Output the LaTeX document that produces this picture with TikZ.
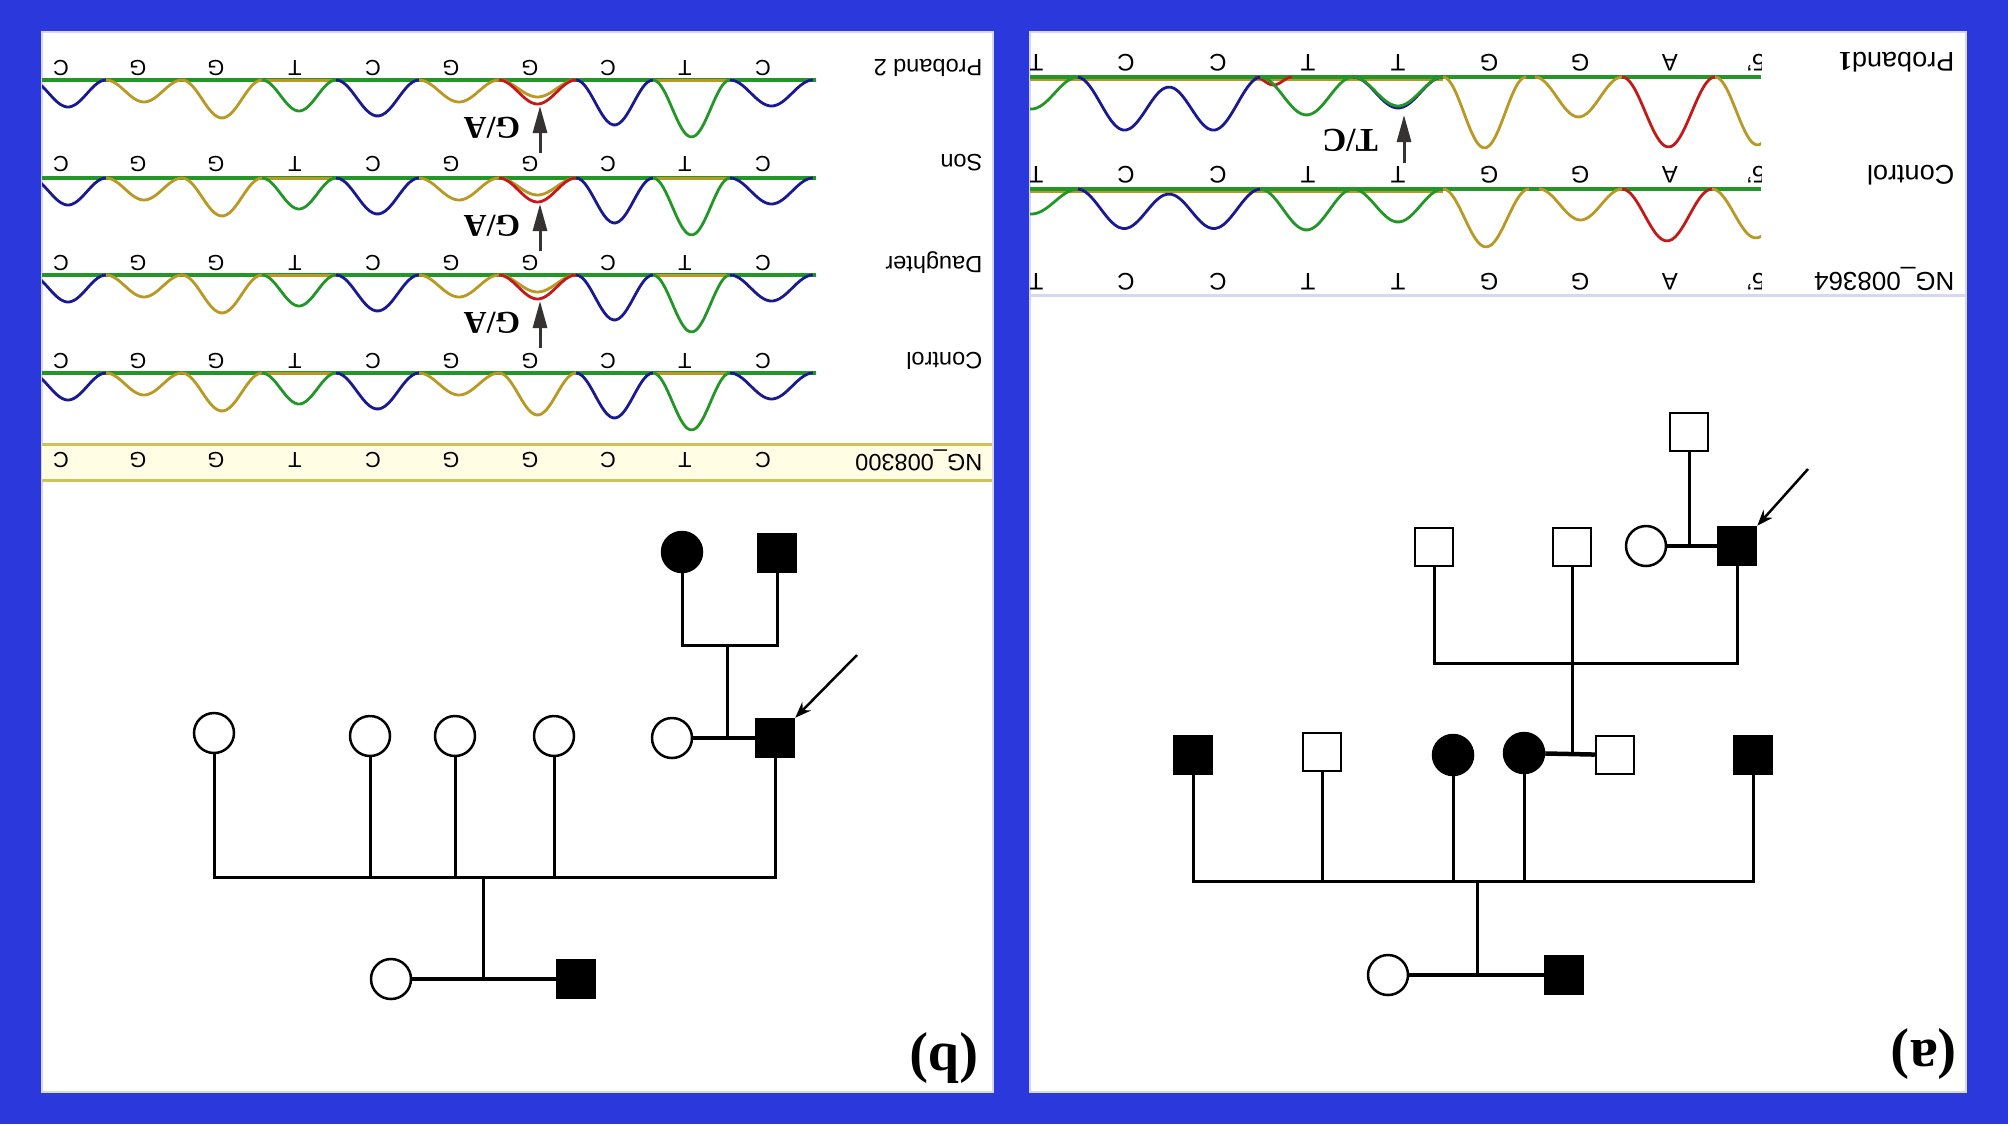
\documentclass[tikz,border=0pt]{standalone}
\usepackage{fontspec}
\setmainfont{Liberation Sans}
\newfontfamily\serif{Liberation Serif}
\usetikzlibrary{arrows.meta, positioning}
\definecolor{bgblue}{RGB}{43,57,220}
\definecolor{tblue}{RGB}{25,25,145}
\definecolor{tolive}{RGB}{185,152,35}
\definecolor{tgreen}{RGB}{35,150,40}
\definecolor{tred}{RGB}{195,25,25}
\definecolor{bandfill}{RGB}{255,253,228}
\definecolor{bandline}{RGB}{205,195,90}
\definecolor{paneledge}{RGB}{215,215,245}
\definecolor{arrgray}{RGB}{55,50,50}
\tikzset{
trace/.style={line width=0.28mm, line join=round}, % one dye trace
base/.style={tgreen, line width=0.4mm}, % flat baseline of a trace row
seq/.style={rotate=180, inner sep=0pt, font=\fontsize{6.2}{7}\selectfont}, % base call letters
lbl/.style={rotate=180, anchor=west, inner sep=0pt, font=\fontsize{6.7}{7}\selectfont}, % row names
mut/.style={arrgray, line width=0.3mm, -{Triangle[length=2.7mm,width=1.4mm]}}, % mutation arrow
mutlbl/.style={rotate=180, inner sep=0pt, font=\serif\bfseries\fontsize{9}{10}\selectfont},
female/.style={circle, draw, line width=0.25mm, minimum size=4mm, inner sep=0pt},
male/.style={rectangle, draw, line width=0.25mm, minimum size=3.8mm, inner sep=0pt},
aff/.style={fill=black}, % affected
link/.style={line width=0.3mm},
marry/.style={line width=0.45mm},
pointer/.style={line width=0.25mm, -{Stealth[length=1.6mm,width=1.2mm]}}, % proband arrow
panellbl/.style={rotate=180, inner sep=0pt, font=\serif\bfseries\fontsize{16}{18}\selectfont},
}
% trough of a trace: colour, baseline, from, to, depth
\newcommand\trough[5]{\draw[trace,color=#1] plot[domain=#3:#4,samples=28,smooth] (\x,{#2+#5*(0.5-0.5*cos(360/(#4-#3)*(\x-#3)))});}
% two troughs with a small hump between them
\newcommand\dtrough[6]{\draw[trace,color=#1] plot[domain=#3:#4,samples=50,smooth] (\x,{#2+#5*(0.5-0.5*cos(720/(#4-#3)*(\x-#3)))+#6*sin(180/(#4-#3)*(\x-#3))});}

\begin{document}
\begin{tikzpicture}[x=0.1mm, y=-0.1mm]
\useasboundingbox (0,0) rectangle (2008,1124);
\fill[bgblue] (0,0) rectangle (2008,1124);
\draw[paneledge, line width=0.2mm, fill=white] (42,32) rectangle (993,1092);
\draw[paneledge, line width=0.2mm, fill=white] (1030,32) rectangle (1966,1092);

% ---- panel b: traces ----
\fill[bandfill] (42,444) rectangle (992,480);
\draw[bandline, line width=0.3mm] (42,444) -- (992,444) (42,480) -- (992,480);
\begin{scope}
\clip (42,30) rectangle (816,440);
\foreach \yb/\dm/\mu in {80/23/1, 178/22/1, 275/22/1, 373/42/0}{
  \draw[base] (42,\yb) -- (816,\yb);
  \draw[tolive, line width=0.3mm] (262,\yb) -- (336,\yb) (653,\yb) -- (730,\yb);
  \foreach \c/\a/\b/\d in {tblue/30/106/27, tolive/106/182/22, tolive/182/262/38, tgreen/262/336/31,
      tblue/336/419/36, tolive/419/499/22, tblue/576/653/45, tgreen/653/730/57, tblue/730/813/26, tgreen/813/895/40}
    {\trough{\c}{\yb}{\a}{\b}{\d}}
  \ifnum\mu=1
    \trough{tolive}{\yb}{499}{576}{17}
    \trough{tred}{\yb}{499}{576}{24}
  \else
    \trough{tolive}{\yb}{499}{576}{\dm}
  \fi
}
\end{scope}
\foreach \yb in {68,164,263,361,460}
  \foreach \xs/\l in {61/C,138/G,216/G,295/T,373/C,451/G,530/G,608/C,685/T,763/C}
    \node[seq] (sb-\yb-\xs) at (\xs,\yb) {\l};
\node[lbl] (pr2) at (983,68) {Proband 2};
\node[lbl] (son) at (983,163) {Son};
\node[lbl] (dau) at (983,263) {Daughter};
\node[lbl] (ctlB) at (983,361) {Control};
\node[lbl] (ngB) at (983,460) {NG\_008300};
\foreach \yb in {80,178,275}{
  \coordinate (ms\yb) at (540,\yb+73);
  \coordinate (mt\yb) at (540,\yb+26);
  \draw[mut] (ms\yb) -- (mt\yb);
  \node[mutlbl] (ga\yb) at (492,\yb+48) {G/A};
}

% ---- panel a: traces ----
\begin{scope}
\clip (1030,30) rectangle (1761,300);
\foreach \yb in {77,189}{
  \draw[tolive, line width=0.3mm] (1030,\yb+2) -- (1443,\yb+2);
  \draw[base] (1030,\yb) -- (1761,\yb);
}
\foreach \c/\a/\b/\d in {tgreen/985/1078/32, tred/1255/1292/8, tgreen/1260/1353/38, tblue/1353/1443/31,
    tgreen/1353/1443/29, tolive/1443/1526/71, tolive/1535/1622/40, tred/1622/1715/70, tolive/1715/1800/68}
  {\trough{\c}{77}{\a}{\b}{\d}}
\dtrough{tblue}{77}{1078}{1260}{46}{10}
\foreach \c/\a/\b/\d in {tgreen/985/1078/25, tgreen/1260/1353/41, tgreen/1353/1443/33,
    tolive/1443/1529/58, tolive/1539/1622/31, tred/1622/1712/52, tolive/1712/1800/49}
  {\trough{\c}{189}{\a}{\b}{\d}}
\dtrough{tblue}{189}{1078}{1260}{36}{5}
\foreach \yb in {63,175,282}
  \foreach \xs/\l in {1036/T,1126/C,1218/C,1308/T,1398/T,1489/G,1580/G,1670/A,1756/5'}
    \node[seq, font=\fontsize{6.8}{7}\selectfont] (sa-\yb-\xs) at (\xs,\yb) {\l};
\end{scope}
\draw[paneledge, line width=0.3mm] (1030,295) -- (1966,295);
\node[lbl, font=\fontsize{7.7}{8}\selectfont] (pr1) at (1955,62) {Proband{\serif\bfseries 1}};
\node[lbl, font=\fontsize{7.7}{8}\selectfont] (ctlA) at (1955,175) {Control};
\node[lbl, font=\fontsize{7.4}{8}\selectfont] (ngA) at (1955,279) {NG\_008364};
\coordinate (msA) at (1404,163);
\coordinate (mtA) at (1404,115);
\draw[mut] (msA) -- (mtA);
\node[mutlbl, font=\serif\bfseries\fontsize{9.5}{10}\selectfont] (tc) at (1350,140) {T/C};

% ---- pedigree b ----
\node[female, aff] (gmB) at (682,552) {};
\node[male, aff] (gfB) at (777,553) {};
\node[female] (wifeB) at (672,738) {};
\node[male, aff] (probB) at (775,738) {};
\node[female] (d1) at (214,733) {};
\node[female] (d2) at (370,736) {};
\node[female] (d3) at (455,736) {};
\node[female] (d4) at (554,736) {};
\node[female] (momB) at (391,979) {};
\node[male, aff] (dadB) at (576,979) {};
\coordinate (gpB) at (727,645);
\coordinate (sibB) at (483,877);
\coordinate (arrB) at (857,655);
\draw[link] (gmB) |- (gpB) -| (gfB);
\draw[link] (gpB) -- (gpB |- wifeB);
\draw[marry] (wifeB) -- (probB);
\draw[link] (d1) |- (sibB) -| (probB);
\foreach \n in {d2,d3,d4} \draw[link] (\n) -- (\n |- sibB);
\draw[link] (sibB) -- (sibB |- momB);
\draw[marry] (momB) -- (dadB);
\draw[pointer] (arrB) -- (probB.north east);
\node[panellbl] (labB) at (944,1058) {(b)};

% ---- pedigree a ----
\node[male] (topA) at (1689,432) {};
\node[female] (wifeA) at (1646,546) {};
\node[male, aff] (probA) at (1737,546) {};
\node[male] (u1) at (1434,547) {};
\node[male] (u2) at (1572,547) {};
\node[male, aff] (c1) at (1193,755) {};
\node[male] (c2) at (1322,752) {};
\node[female, aff] (c3) at (1453,755) {};
\node[female, aff] (c4) at (1524,753) {};
\node[male] (c4h) at (1615,755) {};
\node[male, aff] (c5) at (1753,755) {};
\node[female] (momA) at (1388,975) {};
\node[male, aff] (dadA) at (1564,975) {};
\coordinate (sibA1) at (1572,663);
\coordinate (sibA2) at (1477,881);
\coordinate (arrA) at (1808,469);
\draw[link] (topA) -- (topA |- probA);
\draw[marry] (wifeA) -- (probA);
\draw[link] (u1) |- (sibA1) -| (probA);
\draw[link] (u2) -- (u2 |- c4h);
\draw[marry] (c4) -- (c4h);
\draw[link] (c1) |- (sibA2) -| (c5);
\foreach \n in {c2,c3,c4} \draw[link] (\n) -- (\n |- sibA2);
\draw[link] (sibA2) -- (sibA2 |- momA);
\draw[marry] (momA) -- (dadA);
\draw[pointer] (arrA) -- (probA.north east);
\node[panellbl] (labA) at (1924,1054) {(a)};
\end{tikzpicture}
\end{document}
